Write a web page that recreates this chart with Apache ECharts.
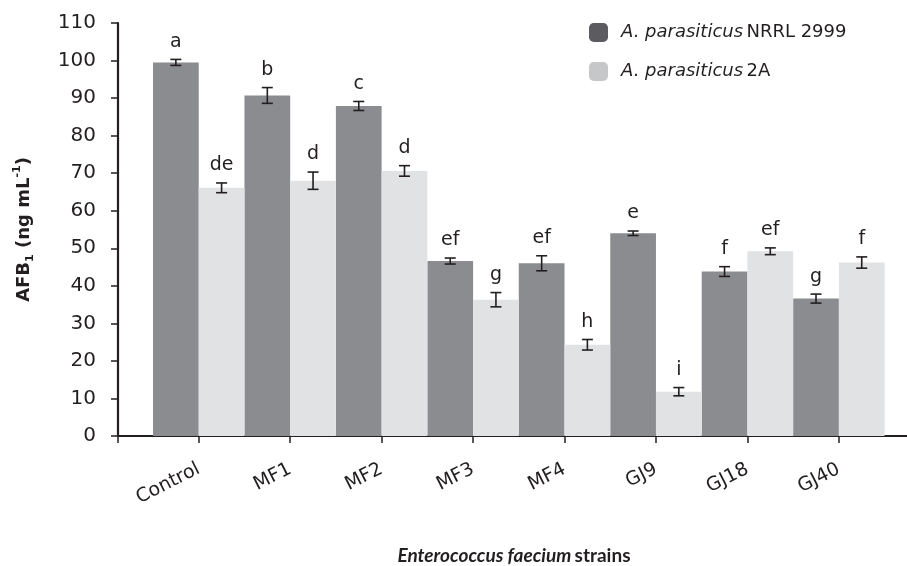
<!DOCTYPE html>
<html>
<head>
<meta charset="utf-8">
<script src="https://cdn.jsdelivr.net/npm/echarts@6/dist/echarts.min.js"></script>
<style>
html,body{margin:0;padding:0;background:#fff;}
#chart{width:907px;height:566px;}
</style>
</head>
<body>
<div id="chart"></div>
<script>
const categories = ['Control', 'MF1', 'MF2', 'MF3', 'MF4', 'GJ9', 'GJ18', 'GJ40'];
const nrrlValues = [99.5, 90.7, 87.9, 46.6, 46.0, 54.0, 43.8, 36.6];
const nrrlErrors = [0.8, 2.1, 1.2, 0.8, 2.0, 0.6, 1.3, 1.2];
const nrrlLetters = ['a', 'b', 'c', 'ef', 'ef', 'e', 'f', 'g'];
const twoAValues = [66.1, 68.0, 70.6, 36.3, 24.3, 11.8, 49.2, 46.2];
const twoAErrors = [1.3, 2.3, 1.4, 1.9, 1.4, 1.1, 0.9, 1.5];
const twoALetters = ['de', 'd', 'd', 'g', 'h', 'i', 'ef', 'f'];
const yTicks = [0, 10, 20, 30, 40, 50, 60, 70, 80, 90, 100, 110];

const darkBar = '#8b8c90';
const lightBar = '#e1e2e4';
const ink = '#231f20';
const sans = '"DejaVu Sans", "Liberation Sans", sans-serif';

function errRender(side, letters) {
  return function (params, api) {
    const i = api.value(0), v = api.value(1), e = api.value(2);
    const band = api.size([1, 0])[0];
    const x = api.coord([i, v])[0] + side * band / 4;
    const yTop = api.coord([i, v + e])[1];
    const yBot = api.coord([i, v - e])[1];
    const cap = 5.5;
    const ls = { stroke: ink, lineWidth: 1.6 };
    return {
      type: 'group',
      children: [
        { type: 'line', shape: { x1: x, y1: yTop, x2: x, y2: yBot }, style: ls },
        { type: 'line', shape: { x1: x - cap, y1: yTop, x2: x + cap, y2: yTop }, style: ls },
        { type: 'line', shape: { x1: x - cap, y1: yBot, x2: x + cap, y2: yBot }, style: ls },
        { type: 'text', style: { text: letters[params.dataIndex], x: x, y: yTop - 8,
            align: 'center', verticalAlign: 'bottom', fill: ink,
            font: '19px ' + sans } }
      ]
    };
  };
}

const chart = echarts.init(document.getElementById('chart'), null, { renderer: 'canvas' });
chart.setOption({
  animation: false,
  backgroundColor: '#ffffff',
  grid: [
    { left: 153, right: 22.4, top: 23, bottom: 130, containLabel: false, outerBoundsMode: 'none' },
    { left: 118, right: -3, top: 23, bottom: 130, containLabel: false, outerBoundsMode: 'none' }
  ],
  legend: {
    orient: 'vertical',
    left: 584, top: 18,
    itemWidth: 19, itemHeight: 19, itemGap: 20,
    selectedMode: false,
    data: [
      { name: 'NRRL', itemStyle: { color: '#5b5b60' } },
      { name: '2A', itemStyle: { color: '#c6c7c9' } }
    ],
    formatter: function (n) {
      return n === 'NRRL' ? '{i|A. parasiticus} {n|NRRL 2999}' : '{i|A. parasiticus} {n|2A}';
    },
    textStyle: {
      padding: [0, 0, 0, 8],
      rich: {
        i: { fontFamily: sans, fontStyle: 'italic', fontSize: 18, color: ink },
        n: { fontFamily: sans, fontSize: 18, color: ink }
      }
    }
  },
  xAxis: [
    {
      type: 'category', gridIndex: 0, data: categories,
      axisLine: { show: false },
      axisTick: { show: true, alignWithLabel: true, length: 7, lineStyle: { color: ink, width: 1.5 } },
      axisLabel: { rotate: 27, margin: 32, fontFamily: sans, fontSize: 19, color: ink }
    },
    {
      type: 'value', gridIndex: 1, min: 0, max: 1, interval: 1,
      axisLine: { show: true, lineStyle: { color: ink, width: 2.2 } },
      axisTick: { show: true, length: 7, lineStyle: { color: ink, width: 1.5 } },
      axisLabel: { show: false },
      splitLine: { show: false },
      name: '{i|Enterococcus faecium} {b|strains}',
      nameLocation: 'middle', nameGap: 110,
      nameTextStyle: {
        rich: {
          i: { fontFamily: 'Lato, "Open Sans", sans-serif', fontWeight: 'bold', fontStyle: 'italic', fontSize: 19, color: ink },
          b: { fontFamily: 'Lato, "Open Sans", sans-serif', fontWeight: 'bold', fontSize: 19, color: ink }
        }
      }
    }
  ],
  yAxis: [
    { type: 'value', gridIndex: 0, min: 0, max: 110, interval: 10, show: false },
    {
      type: 'value', gridIndex: 1, min: yTicks[0], max: yTicks[yTicks.length - 1], interval: 10,
      axisLine: { show: true, lineStyle: { color: ink, width: 2.2 } },
      axisTick: { show: true, length: 7, lineStyle: { color: ink, width: 1.5 } },
      axisLabel: { margin: 22, fontFamily: sans, fontSize: 20, color: ink },
      splitLine: { show: false },
      name: '{b|AFB}{s|1}{b| (ng mL}{p|-1}{b|)}',
      nameLocation: 'middle', nameGap: 82, nameRotate: 90,
      nameTextStyle: {
        rich: {
          b: { fontFamily: sans, fontWeight: 'bold', fontSize: 18, color: ink, lineHeight: 24 },
          s: { fontFamily: sans, fontWeight: 'bold', fontSize: 11, color: ink, verticalAlign: 'bottom', lineHeight: 24 },
          p: { fontFamily: sans, fontWeight: 'bold', fontSize: 11, color: ink, verticalAlign: 'top', lineHeight: 24 }
        }
      }
    }
  ],
  series: [
    { name: 'NRRL', type: 'bar', xAxisIndex: 0, yAxisIndex: 0, data: nrrlValues,
      barGap: '0%', barCategoryGap: '0%', itemStyle: { color: darkBar } },
    { name: '2A', type: 'bar', xAxisIndex: 0, yAxisIndex: 0, data: twoAValues,
      barGap: '0%', barCategoryGap: '0%', itemStyle: { color: lightBar } },
    { type: 'custom', xAxisIndex: 0, yAxisIndex: 0, z: 5,
      data: nrrlValues.map((v, i) => [i, v, nrrlErrors[i]]),
      encode: { x: 0, y: 1 }, renderItem: errRender(-1, nrrlLetters) },
    { type: 'custom', xAxisIndex: 0, yAxisIndex: 0, z: 5,
      data: twoAValues.map((v, i) => [i, v, twoAErrors[i]]),
      encode: { x: 0, y: 1 }, renderItem: errRender(1, twoALetters) }
  ]
});
</script>
</body>
</html>
